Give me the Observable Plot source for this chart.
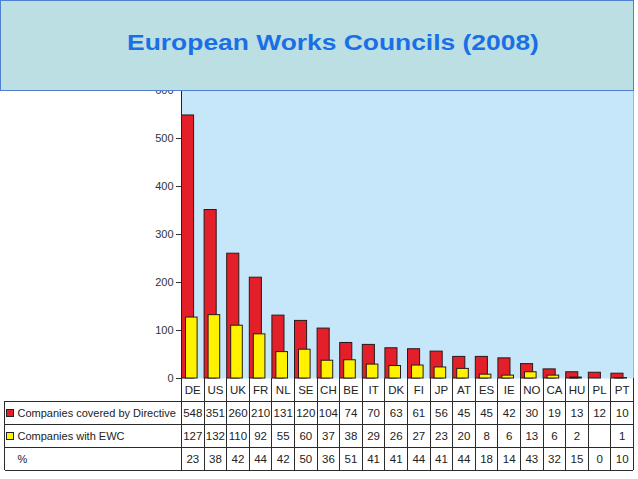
<!DOCTYPE html>
<html>
<head>
<meta charset="utf-8">
<script src="https://cdn.jsdelivr.net/npm/d3@7"></script>
<script src="https://cdn.jsdelivr.net/npm/@observablehq/plot@0.6"></script>
<style>
  html, body { margin: 0; padding: 0; background: #ffffff; }
  #wrap { position: relative; width: 638px; height: 479px; overflow: hidden; background: #fff; }
  #chart { position: absolute; left: 0; top: 0; }
  #banner { position: absolute; left: 0; top: 0; width: 632px; height: 89px; background: #bcdfe3; border: 1px solid #4f7fd0; z-index: 2; }
  #title { position: absolute; left: 332px; top: 29px; white-space: nowrap; font-family: "Liberation Sans", Arial, sans-serif; font-weight: bold; font-size: 22px; color: #1a6fe6; transform: translateX(-50%) scaleX(1.2); transform-origin: center; }
</style>
</head>
<body>
<div id="wrap">
  <div id="chart"></div>
  <div id="banner"><div id="title">European Works Councils (2008)</div></div>
</div>
<script>
const cats = ["DE","US","UK","FR","NL","SE","CH","BE","IT","DK","FI","JP","AT","ES","IE","NO","CA","HU","PL","PT"];
const covered = [548,351,260,210,131,120,104,74,70,63,61,56,45,45,42,30,19,13,12,10];
const withEwc = [127,132,110,92,55,60,37,38,29,26,27,23,20,8,6,13,6,2,null,1];
const pct = [23,38,42,44,42,50,36,51,41,41,44,41,44,18,14,43,32,15,0,10];
const yTicks = [0,100,200,300,400,500,600];
const rowLabels = ["Companies covered by Directive","Companies with EWC","%"];

const RED = "#e3202a", YEL = "#fff200", EDGE = "#2a1a1a";
const ROW_H = 23;

const data = cats.map((c, i) => ({cat: c, covered: covered[i], ewc: withEwc[i], pct: pct[i]}));

// cells of the data table: header + three rows
const cells = [];
data.forEach(d => {
  cells.push({cat: d.cat, row: 0, text: d.cat});
  cells.push({cat: d.cat, row: 1, text: String(d.covered)});
  cells.push({cat: d.cat, row: 2, text: d.ewc == null ? "" : String(d.ewc)});
  cells.push({cat: d.cat, row: 3, text: String(d.pct)});
});

function tableGrid(index, scales, values, dims) {
  const x = scales.x, y = scales.y;
  const bw = x.bandwidth ? x.bandwidth() : (x(cats[1]) - x(cats[0]));
  const x0 = x(cats[0]);
  const x1 = x(cats[cats.length - 1]) + bw;
  const y0 = y(0);
  const yTop = y(600);
  const left = 4.5;
  const g = d3.create("svg:g").attr("fill", "none").attr("shape-rendering", "crispEdges");
  // right edge of plot area
  g.append("line").attr("x1", x1).attr("x2", x1).attr("y1", yTop).attr("y2", y0).attr("stroke", "#a8b4bc");
  const t = g.append("g").attr("stroke", "#2b2b2b").attr("stroke-width", 1);
  // column lines
  cats.forEach(c => {
    const xx = Math.round(x(c)) + 0.5;
    t.append("line").attr("x1", xx).attr("x2", xx).attr("y1", y0).attr("y2", y0 + 4 * ROW_H);
  });
  t.append("line").attr("x1", x1).attr("x2", x1).attr("y1", y0).attr("y2", y0 + 4 * ROW_H);
  // left border of row-label column
  t.append("line").attr("x1", left).attr("x2", left).attr("y1", y0 + ROW_H).attr("y2", y0 + 4 * ROW_H);
  // horizontal lines
  for (let r = 1; r <= 4; r++) {
    const yy = Math.round(y0 + r * ROW_H) + 0.5;
    t.append("line").attr("x1", left).attr("x2", x1).attr("y1", yy).attr("y2", yy);
  }
  // axis line
  g.append("line").attr("x1", x0 + 0.5).attr("x2", x0 + 0.5).attr("y1", yTop).attr("y2", y0).attr("stroke", "#222");
  // legend keys
  [[RED, 1], [YEL, 2]].forEach(([col, r]) => {
    g.append("rect").attr("x", 6.5).attr("y", y0 + r * ROW_H + ROW_H / 2 - 3.5).attr("width", 7).attr("height", 7)
      .attr("fill", col).attr("stroke", "#222");
  });
  return g.node();
}

const chart = Plot.plot({
  width: 638,
  height: 479,
  marginLeft: 181,
  marginRight: 5,
  marginTop: 90,
  marginBottom: 101,
  style: {fontFamily: "'Liberation Sans', Arial, sans-serif", fontSize: "11px", background: "transparent", color: "#333", overflow: "visible"},
  x: {domain: cats, paddingInner: 0, paddingOuter: 0, round: false, axis: null},
  y: {domain: [0, 600], axis: null},
  marks: [
    Plot.frame({fill: "#c6e7fa", stroke: null}),
    Plot.axisY({ticks: yTicks, tickSize: 5, tickPadding: 3, fontSize: 11, fill: "#333", stroke: "#333", tickFormat: d => String(d)}),
    Plot.barY(data, {x: "cat", y: "covered", fill: RED, stroke: EDGE, strokeWidth: 1, insetLeft: 0.5, insetRight: 10}),
    Plot.barY(data.filter(d => d.ewc != null), {x: "cat", y: "ewc", fill: YEL, stroke: EDGE, strokeWidth: 1, insetLeft: 4.5, insetRight: 6.5}),
    tableGrid,
    ...[0, 1, 2, 3].map(r => Plot.text(cells.filter(c => c.row === r), {x: "cat", y: () => 0, text: "text", dy: r * ROW_H + ROW_H / 2 + 0.5, fontSize: 11.5, fill: "#222"})),
    ...rowLabels.map((lab, r) => Plot.text([lab], {frameAnchor: "left", y: () => 0, text: d => d, dx: -164, dy: (r + 1) * ROW_H + ROW_H / 2 + 0.5, textAnchor: "start", fontSize: 11, fill: "#222"}))
  ]
});
document.getElementById("chart").appendChild(chart);
</script>
</body>
</html>
